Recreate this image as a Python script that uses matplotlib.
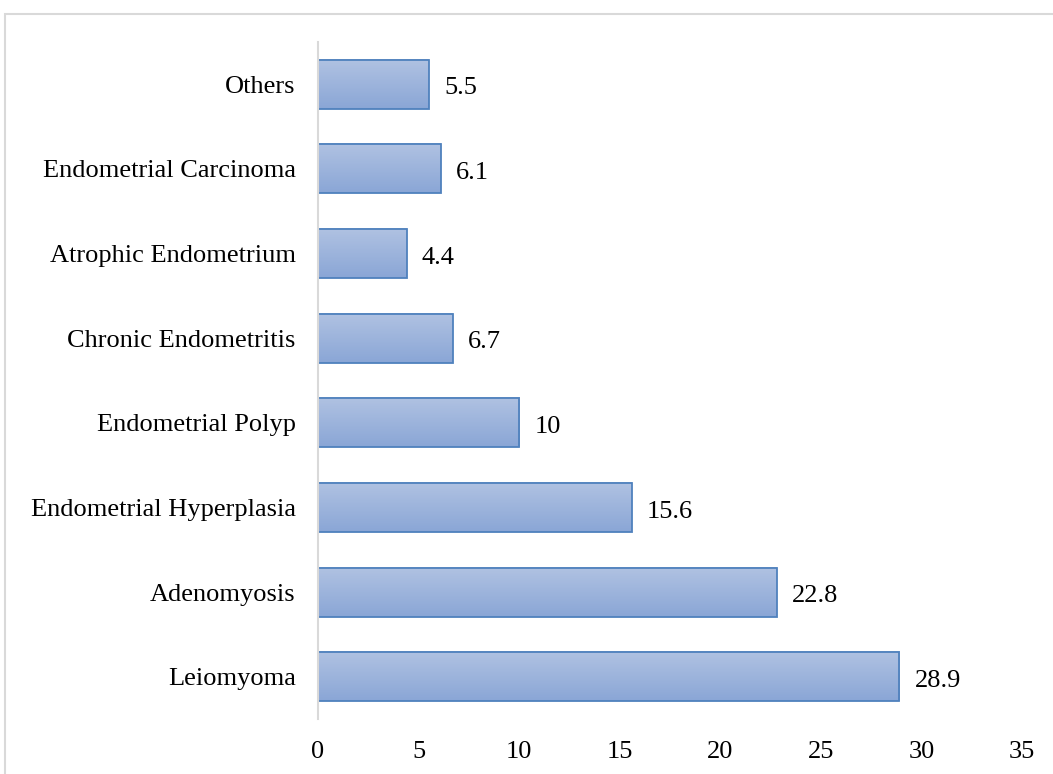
import numpy as np
import matplotlib.pyplot as plt
from matplotlib.patches import Rectangle
from matplotlib.colors import LinearSegmentedColormap

categories = ["Leiomyoma", "Adenomyosis", "Endometrial Hyperplasia", "Endometrial Polyp",
              "Chronic Endometritis", "Atrophic Endometrium", "Endometrial Carcinoma", "Others"]
values = [28.9, 22.8, 15.6, 10, 6.7, 4.4, 6.1, 5.5]
labels = ["28.9", "22.8", "15.6", "10", "6.7", "4.4", "6.1", "5.5"]

plt.rcParams["font.family"] = ["Liberation Serif", "DejaVu Serif"]

fig = plt.figure(figsize=(10.53, 7.74), dpi=100)
ax = fig.add_axes([318 / 1053, 1 - 719 / 774, (1022 - 318) / 1053, (719 - 42) / 774])

# outer chart frame (cut off at right/bottom like the reference)
fig.patches.append(Rectangle((5 / 1053, -0.1), 1.2, 1 - 14 / 774 + 0.1,
                             transform=fig.transFigure, fill=False,
                             edgecolor="#d9d9d9", linewidth=1.5))

y = np.arange(len(categories))
bars = ax.barh(y, values, height=0.58, color="none", edgecolor="#4f81bd", linewidth=1.3, zorder=3)

cmap = LinearSegmentedColormap.from_list("grad", ["#8aa6d6", "#b0c2e2"])
grad = np.linspace(0, 1, 100).reshape(-1, 1)
for b in bars:
    x0, y0, w, h = b.get_x(), b.get_y(), b.get_width(), b.get_height()
    ax.imshow(grad, cmap=cmap, aspect="auto", origin="lower",
              extent=(x0, x0 + w, y0, y0 + h), zorder=2)

for b, lab in zip(bars, labels):
    ax.annotate(lab, (b.get_width(), b.get_y() + b.get_height() / 2),
                xytext=(11, -3), textcoords="offset points",
                ha="left", va="center", fontsize=19)

ax.set_xlim(0, 35)
ax.set_ylim(-0.5, len(categories) - 0.5)
ax.set_xticks(range(0, 36, 5))
ax.set_yticks(y)
ax.set_yticklabels(categories)
ax.tick_params(axis="both", length=0, labelsize=19)
ax.tick_params(axis="x", pad=16)
ax.tick_params(axis="y", pad=16)

for s in ["top", "right", "bottom"]:
    ax.spines[s].set_visible(False)
ax.spines["left"].set_color("#d9d9d9")
ax.spines["left"].set_linewidth(1.5)
ax.spines["left"].set_zorder(4)

fig.savefig("out.png", dpi=100)
